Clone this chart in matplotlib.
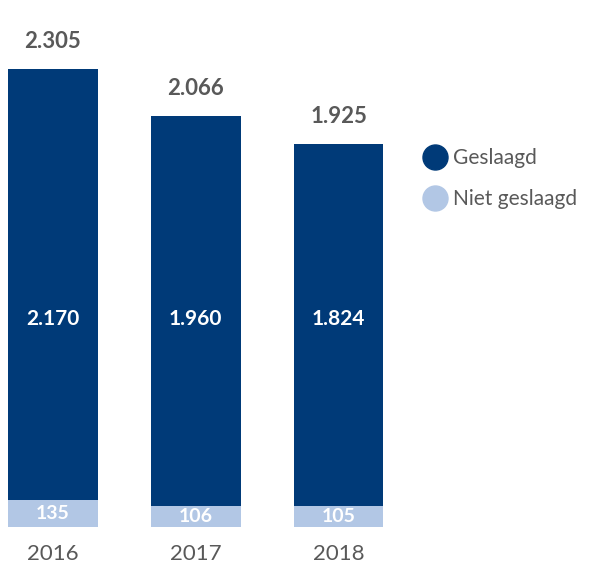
import matplotlib.pyplot as plt
from matplotlib.lines import Line2D

years = ["2016", "2017", "2018"]
geslaagd = [2170, 1960, 1824]
niet_geslaagd = [135, 106, 105]
totaal = [2305, 2066, 1925]

DARK = "#003a78"
LIGHT = "#b2c7e5"
GREY = "#595959"


def fmt(v):
    # Dutch thousands separator
    return f"{v:,}".replace(",", ".")


plt.rcParams["font.family"] = ["Lato", "DejaVu Sans"]

fig = plt.figure(figsize=(5.91, 5.73), dpi=100)
ax = fig.add_axes([0, 46 / 573, 1, 527 / 573])

x = list(range(len(years)))
ax.bar(x, niet_geslaagd, width=0.63, color=LIGHT)
ax.bar(x, geslaagd, width=0.63, bottom=niet_geslaagd, color=DARK)

for i in x:
    ax.text(i, niet_geslaagd[i] / 2, fmt(niet_geslaagd[i]), ha="center", va="center",
            color="white", fontsize=14, fontweight="bold")
    ax.text(i, 1047, fmt(geslaagd[i]), ha="center", va="center",
            color="white", fontsize=15, fontweight="bold")
    ax.annotate(fmt(totaal[i]), (i, totaal[i]), xytext=(0, 20), textcoords="offset points",
                ha="center", va="center", color=GREY, fontsize=16, fontweight="bold")

ax.set_xlim(-53 / 142.75, (591 - 53) / 142.75)
ax.set_ylim(0, 2652)
ax.set_xticks(x)
ax.set_xticklabels(years, fontsize=16, color=GREY)
ax.tick_params(axis="x", length=0, pad=12)
ax.set_yticks([])
for s in ax.spines.values():
    s.set_visible(False)

handles = [
    Line2D([], [], marker="o", ls="", markersize=18, color=DARK, label="Geslaagd"),
    Line2D([], [], marker="o", ls="", markersize=18, color=LIGHT, label="Niet geslaagd"),
]
ax.legend(handles=handles, loc="upper left", bbox_to_anchor=(414 / 591, 1 - 140 / 527),
          frameon=False, fontsize=15, labelcolor=GREY, handletextpad=0.25,
          labelspacing=1.0, borderaxespad=0, handlelength=1.2)

plt.savefig("out.png", dpi=100)
